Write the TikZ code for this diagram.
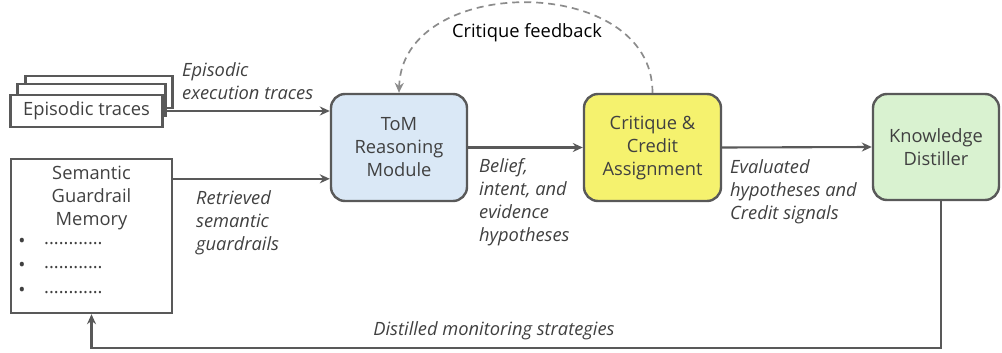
\documentclass[tikz,border=0pt]{standalone}
\usepackage{fontspec}
\setmainfont{Open Sans}
\usetikzlibrary{arrows.meta}
\definecolor{edgec}{HTML}{595959}
\definecolor{txt}{HTML}{404040}
\definecolor{tomfill}{HTML}{DAE8F6}
\definecolor{critfill}{HTML}{F5F26E}
\definecolor{kdfill}{HTML}{D9F2D0}
\definecolor{dashc}{HTML}{8C8C8C}
\begin{document}
\begin{tikzpicture}[x=1pt,y=-1pt,
  font=\fontsize{18.3}{23}\selectfont, text=txt,
  module/.style={draw=edgec, line width=2.4pt, rounded corners=14pt, align=center, inner sep=0pt},
  plainbox/.style={draw=edgec, line width=2.4pt, fill=white, inner sep=0pt, minimum height=32pt},
  lbl/.style={font=\fontsize{18.3}{23}\selectfont\itshape, align=left, anchor=west, inner sep=0pt},
  arr/.style={draw=edgec, line width=2.1pt, -{Stealth[length=10pt,width=9pt]}},
  fb/.style={draw=dashc, line width=1.7pt, dash pattern=on 7pt off 5pt, -{Stealth[length=10pt,width=9pt]}}
]
\useasboundingbox (0,0) rectangle (1002,353);
% episodic trace stack
\node[plainbox, minimum width=147pt] (ep3) at (99,92) {};
\node[plainbox, minimum width=148pt] (ep2) at (91.5,100) {};
\node[plainbox, minimum width=152pt] (ep1) at (86.5,111) {Episodic traces};
% semantic memory
\node[draw=edgec, line width=2.4pt, inner sep=0pt, minimum width=161pt, minimum height=154pt] (sem) at (91.5,236) {};
\node[align=center, inner sep=0pt] (semtitle) at (91.5,198) {Semantic\\Guardrail\\Memory};
\node[inner sep=0pt, font=\fontsize{19}{19}\selectfont] (b1) at (22,243) {•};
\node[inner sep=0pt, font=\fontsize{19}{19}\selectfont] (b2) at (22,267) {•};
\node[inner sep=0pt, font=\fontsize{19}{19}\selectfont] (b3) at (22,292) {•};
\node[inner sep=0pt, anchor=west] (d1) at (44,244) {............};
\node[inner sep=0pt, anchor=west] (d2) at (44,268) {............};
\node[inner sep=0pt, anchor=west] (d3) at (44,293) {............};
% modules
\node[module, fill=tomfill, minimum width=136pt, minimum height=107pt] (tom) at (399,147.5) {ToM\\Reasoning\\Module};
\node[module, fill=critfill, minimum width=137pt, minimum height=107pt] (crit) at (652.5,147.5) {Critique \&\\Credit\\Assignment};
\node[module, fill=kdfill, minimum width=126pt, minimum height=106pt] (kd) at (936,147) {Knowledge\\Distiller};
% connectors
\draw[arr] (ep1.east) -- (ep1.east -| tom.west);
\draw[arr] ([yshift=-21pt]sem.north east) -- ([yshift=-21pt]sem.north east -| tom.west);
\draw[arr] (tom.east) -- (crit.west);
\draw[arr] (crit.east) -- (kd.west);
\draw[arr] ([xshift=5pt]kd.south) -- ++(0,147) -| (sem.south);
\draw[fb] (crit.north) .. controls (653,-27) and (402,-27) .. (tom.north);
% labels
\node[lbl] (l1) at (182,81.5) {Episodic\\execution traces};
\node[lbl] (l2) at (196,223) {Retrieved\\semantic\\guardrails};
\node[lbl] (l3) at (479,202.5) {Belief,\\intent, and\\evidence\\hypotheses};
\node[lbl] (l4) at (730,191.5) {Evaluated\\hypotheses and\\Credit signals};
\node[lbl, anchor=center] (l5) at (494,331) {Distilled monitoring strategies};
\node[inner sep=0pt, text=black] (l6) at (527,33) {Critique feedback};
\end{tikzpicture}
\end{document}
